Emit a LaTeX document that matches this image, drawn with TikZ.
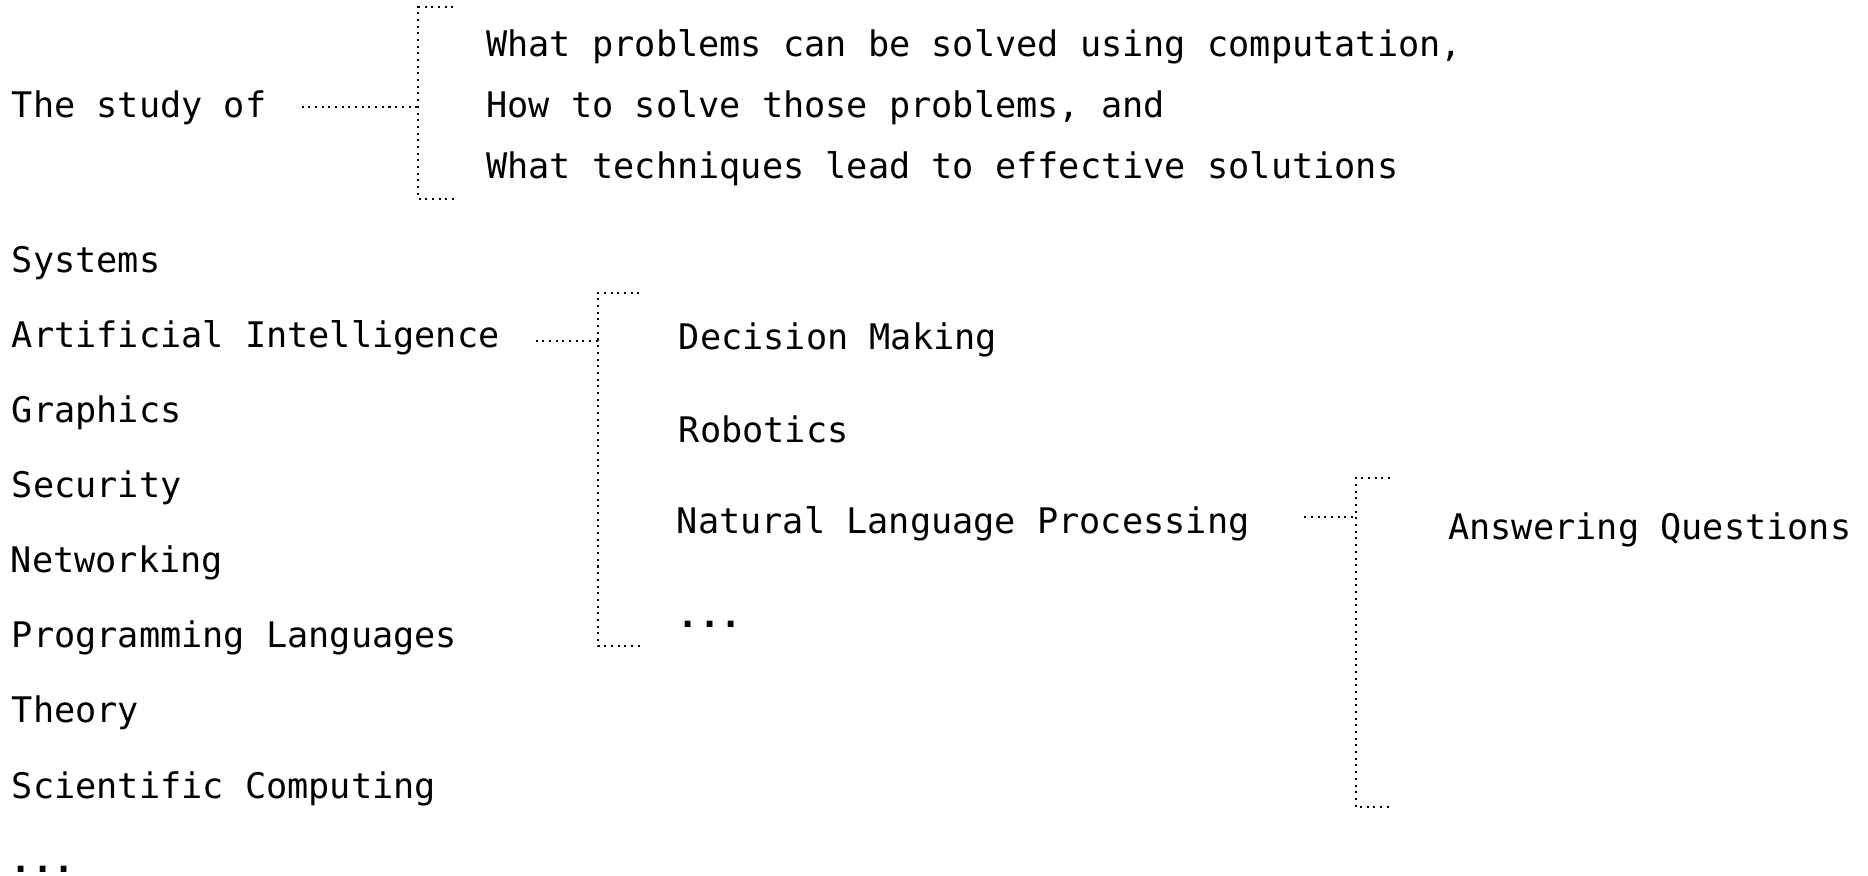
\documentclass[tikz,border=0pt]{standalone}
\usepackage{fontspec}
\setmonofont{DejaVu Sans Mono}
\usepackage{tikz}
\usetikzlibrary{calc}
\tikzset{
  item/.style={anchor=base west, inner sep=0pt, font=\ttfamily\fontsize{20.05}{24}\selectfont},
  etc/.style={item, font=\ttfamily\bfseries\fontsize{20.05}{24}\selectfont},
  link/.style={draw=black, line width=1.15pt, dash pattern=on 1.15pt off 2.65pt},
  bracket/.style={link}
}

\begin{document}
\begin{tikzpicture}[x=0.02cm, y=-0.02cm]
  \useasboundingbox (0,0) rectangle (1868,875);

  % top definition
  \node[item] (study) at (11.5,117.4) {The study of};
  \node[item] (what) at (486,56.1) {What problems can be solved using computation,};
  \node[item] (how) at (486,117.4) {How to solve those problems, and};
  \node[item] (tech) at (486,178.7) {What techniques lead to effective solutions};

  \coordinate (tFrom) at (301.7,106.7);
  \coordinate (tJoin) at (418.3,106.7);
  \coordinate (tTop) at (418.3,7.3);
  \coordinate (tBot) at (418.3,199);
  \draw[link] (tFrom) -- (tJoin);
  \draw[bracket] ($(tTop)+(35,0)$) -- (tTop) -- (tBot) -- ++(40,0);

  % fields
  \node[item] (sys) at (11.5,272.3) {Systems};
  \node[item] (ai) at (11.5,347.4) {Artificial Intelligence};
  \node[item] (gfx) at (11.5,422.5) {Graphics};
  \node[item] (sec) at (11.5,497.6) {Security};
  \node[item] (net) at (10.5,572.7) {Networking};
  \node[item] (pl) at (11.5,647.8) {Programming Languages};
  \node[item] (thy) at (11.5,722.9) {Theory};
  \node[item] (sci) at (11.5,798.0) {Scientific Computing};
  \node[etc] (more) at (10.5,872) {...};

  % artificial intelligence
  \node[item] (dec) at (678.5,349.7) {Decision Making};
  \node[item] (rob) at (678.5,442.7) {Robotics};
  \node[item] (nlp) at (676.5,533.2) {Natural Language Processing};
  \node[etc] (aimore) at (677.5,627) {...};

  \coordinate (aFrom) at (535.7,340.7);
  \coordinate (aJoin) at (597.7,340.7);
  \coordinate (aTop) at (597.7,293.3);
  \coordinate (aBot) at (597.7,645.7);
  \draw[link] (aFrom) -- (aJoin);
  \draw[bracket] ($(aTop)+(41.6,0)$) -- (aTop) -- (aBot) -- ++(45.6,0);

  % natural language processing
  \node[item] (ans) at (1448,539) {Answering Questions};

  \coordinate (nFrom) at (1304.3,517.3);
  \coordinate (nJoin) at (1355.7,517.3);
  \coordinate (nTop) at (1355.7,478.3);
  \coordinate (nBot) at (1355.7,806.8);
  \draw[link] (nFrom) -- (nJoin);
  \draw[bracket] ($(nTop)+(34.3,0)$) -- (nTop) -- (nBot) -- ++(37.3,0);
\end{tikzpicture}
\end{document}
